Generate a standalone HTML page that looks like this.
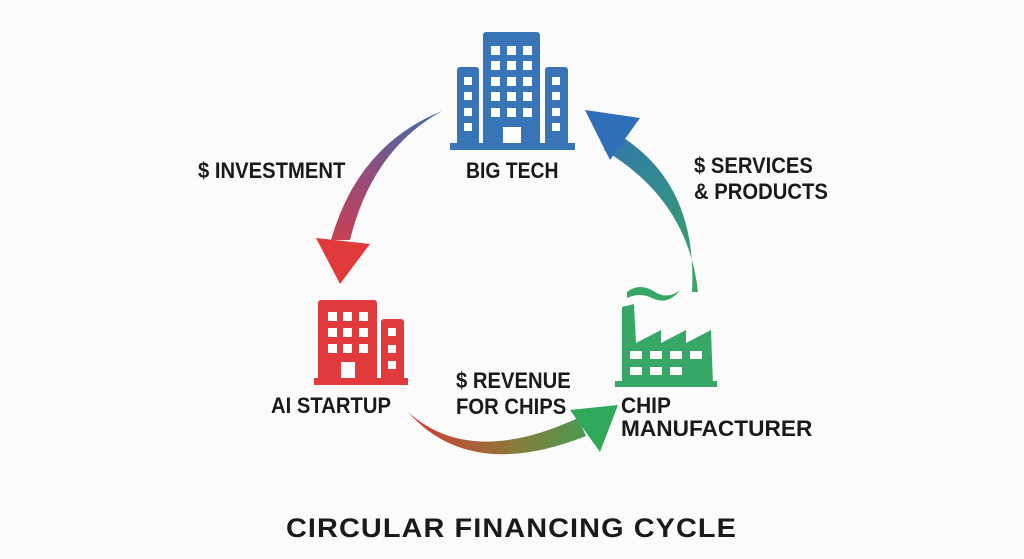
<!DOCTYPE html>
<html><head><style>
html,body{margin:0;padding:0;background:#fbfbfb;}
body{width:1024px;height:559px;position:relative;overflow:hidden;font-family:"Liberation Sans",sans-serif;}
.t{position:absolute;font-weight:bold;color:#1a1a1a;font-size:22px;line-height:24px;transform-origin:left top;white-space:nowrap;}
</style></head><body>
<svg width="1024" height="559" style="position:absolute;left:0;top:0">
<defs>
<linearGradient id="g1" x1="440" y1="110" x2="340" y2="285" gradientUnits="userSpaceOnUse"><stop offset="0" stop-color="#3b6fb0"/><stop offset="0.5" stop-color="#9a4a78"/><stop offset="1" stop-color="#e03a3a"/></linearGradient>
<linearGradient id="g2" x1="695" y1="295" x2="585" y2="112" gradientUnits="userSpaceOnUse"><stop offset="0" stop-color="#3aa860"/><stop offset="1" stop-color="#2e6fb8"/></linearGradient>
<linearGradient id="g3" x1="410" y1="410" x2="615" y2="410" gradientUnits="userSpaceOnUse"><stop offset="0" stop-color="#d83a36"/><stop offset="0.5" stop-color="#8a7a3a"/><stop offset="1" stop-color="#2fa85a"/></linearGradient>
</defs>
<path d="M442,111 Q358,145 331,240 L350,240 Q372,150 442,111 Z" fill="url(#g1)"/>
<polygon points="316,238 370,244 340,284" fill="#e03a3a"/>
<path d="M692,292 Q698,180 614,132 L604,150 Q688,200 698,292 Z" fill="url(#g2)"/>
<polygon points="585,110 640,118 610,160" fill="#2e6fb8"/>
<path d="M408,412 Q470,468 578,418 L586,436 Q470,482 408,412 Z" fill="url(#g3)"/>
<polygon points="618,405 570,410 600,452" fill="#2fa85a"/>
<g fill="#3874b6">
<rect x="483" y="32" width="57" height="116" rx="3"/>
<rect x="457" y="67" width="22" height="81" rx="3"/>
<rect x="545" y="67" width="23" height="81" rx="3"/>
<rect x="450" y="143" width="125" height="7"/>
</g>
<g fill="#fff">
<rect x="491" y="46" width="9" height="9"/><rect x="507" y="46" width="9" height="9"/><rect x="523" y="46" width="9" height="9"/>
<rect x="491" y="61" width="9" height="9"/><rect x="507" y="61" width="9" height="9"/><rect x="523" y="61" width="9" height="9"/>
<rect x="491" y="77" width="9" height="9"/><rect x="507" y="77" width="9" height="9"/><rect x="523" y="77" width="9" height="9"/>
<rect x="491" y="92" width="9" height="9"/><rect x="507" y="92" width="9" height="9"/><rect x="523" y="92" width="9" height="9"/>
<rect x="491" y="108" width="9" height="9"/><rect x="507" y="108" width="9" height="9"/><rect x="523" y="108" width="9" height="9"/>
<rect x="503" y="127" width="18" height="16"/>
<rect x="464" y="77" width="8" height="8"/><rect x="464" y="92" width="8" height="8"/><rect x="464" y="108" width="8" height="8"/><rect x="464" y="123" width="8" height="8"/>
<rect x="552" y="77" width="8" height="8"/><rect x="552" y="92" width="8" height="8"/><rect x="552" y="108" width="8" height="8"/><rect x="552" y="123" width="8" height="8"/>
</g>
<g fill="#e03a3c">
<rect x="318" y="300" width="59" height="83" rx="3"/>
<rect x="381" y="319" width="23" height="64" rx="3"/>
<rect x="314" y="378" width="94" height="7"/>
</g>
<g fill="#fff">
<rect x="328" y="312" width="9" height="9"/><rect x="343" y="312" width="9" height="9"/><rect x="359" y="312" width="9" height="9"/>
<rect x="328" y="328" width="9" height="9"/><rect x="343" y="328" width="9" height="9"/><rect x="359" y="328" width="9" height="9"/>
<rect x="328" y="344" width="9" height="9"/><rect x="343" y="344" width="9" height="9"/><rect x="359" y="344" width="9" height="9"/>
<rect x="341" y="362" width="14" height="16"/>
<rect x="388" y="328" width="8" height="8"/><rect x="388" y="345" width="8" height="8"/><rect x="388" y="361" width="8" height="8"/>
</g>
<g fill="#36a764">
<path d="M627,292 Q640,282 655,292 Q668,300 680,290 Q668,306 652,298 Q640,292 627,298 Z"/>
<path d="M622,385 L622,307 L634,304 L636,343 L661,330 L661,343 L686,330 L686,343 L711,330 L713,385 Z"/>
<rect x="615" y="381" width="102" height="6"/>
</g>
<g fill="#fff">
<rect x="630" y="351" width="12" height="8"/><rect x="650" y="351" width="12" height="8"/><rect x="670" y="351" width="12" height="8"/><rect x="690" y="351" width="12" height="8"/>
<rect x="630" y="367" width="12" height="8"/><rect x="650" y="367" width="12" height="8"/><rect x="670" y="367" width="12" height="8"/>
</g>
</svg>
<div class="t" style="left:198px;top:159px;transform:scaleX(0.92);">$ INVESTMENT</div>
<div class="t" style="left:466px;top:159px;transform:scaleX(0.88);">BIG TECH</div>
<div class="t" style="left:694px;top:154px;transform:scaleX(0.92);">$ SERVICES</div>
<div class="t" style="left:694px;top:180px;transform:scaleX(0.92);">&amp; PRODUCTS</div>
<div class="t" style="left:271px;top:394px;transform:scaleX(0.92);">AI STARTUP</div>
<div class="t" style="left:456px;top:369px;transform:scaleX(0.92);">$ REVENUE</div>
<div class="t" style="left:456px;top:395px;transform:scaleX(0.92);">FOR CHIPS</div>
<div class="t" style="left:621px;top:394px;transform:scaleX(0.95);">CHIP</div>
<div class="t" style="left:621px;top:417px;transform:scaleX(1.03);">MANUFACTURER</div>
<div class="t" style="left:286px;top:513px;font-size:27px;line-height:30px;letter-spacing:1px;transform:scaleX(1.07);">CIRCULAR FINANCING CYCLE</div>
</body></html>
